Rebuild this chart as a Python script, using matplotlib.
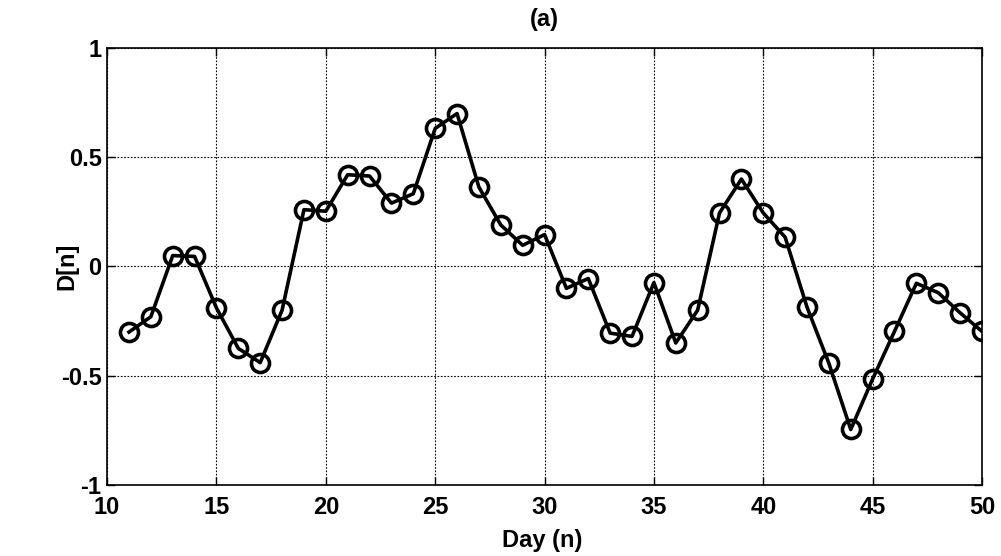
import matplotlib
matplotlib.use("Agg")
import matplotlib.pyplot as plt

days = list(range(11, 51))
values = [-0.30, -0.23, 0.05, 0.046, -0.19, -0.375, -0.44, -0.20, 0.26, 0.253,
          0.42, 0.414, 0.29, 0.333, 0.632, 0.70, 0.363, 0.19, 0.097, 0.146,
          -0.10, -0.055, -0.305, -0.32, -0.074, -0.35, -0.20, 0.245, 0.40, 0.245,
          0.134, -0.186, -0.443, -0.746, -0.515, -0.297, -0.077, -0.12, -0.212, -0.297]
xticks = [10, 15, 20, 25, 30, 35, 40, 45, 50]
yticks = [-1, -0.5, 0, 0.5, 1]
ytick_labels = ["-1", "-0.5", "0", "0.5", "1"]

plt.rcParams['font.family'] = ['Liberation Sans', 'DejaVu Sans']
fig = plt.figure(figsize=(10.01, 5.56), dpi=100)
ax = fig.add_axes([0.107, 0.1277, 0.874, 0.786])
ax.plot(days, values, color='black', linewidth=2.6, marker='o', markersize=13,
        markerfacecolor='none', markeredgecolor='black', markeredgewidth=2.6, zorder=3)
ax.set_xlim(10, 50)
ax.set_ylim(-1, 1)
ax.set_xticks(xticks)
ax.set_yticks(yticks)
ax.set_yticklabels(ytick_labels)
ax.grid(True, color='black', linestyle=(0, (1.5, 1.5)), linewidth=0.8)
ax.tick_params(direction='in', top=True, right=True, length=6, width=1, labelsize=17)
ax.tick_params(axis='x', pad=8)
ax.tick_params(axis='y', pad=4)
for lab in ax.get_xticklabels() + ax.get_yticklabels():
    lab.set_fontweight('bold')
for s in ax.spines.values():
    s.set_linewidth(1.2)
ax.set_xlabel('Day (n)', fontsize=17, fontweight='bold')
ax.set_ylabel('D[n]', fontsize=17, fontweight='bold')
ax.xaxis.set_label_coords(0.497, -0.100)
ax.yaxis.set_label_coords(-0.033, 0.5)
ax.set_title('(a)', fontsize=17, fontweight='bold', pad=16)
fig.savefig('out.png', dpi=100)
